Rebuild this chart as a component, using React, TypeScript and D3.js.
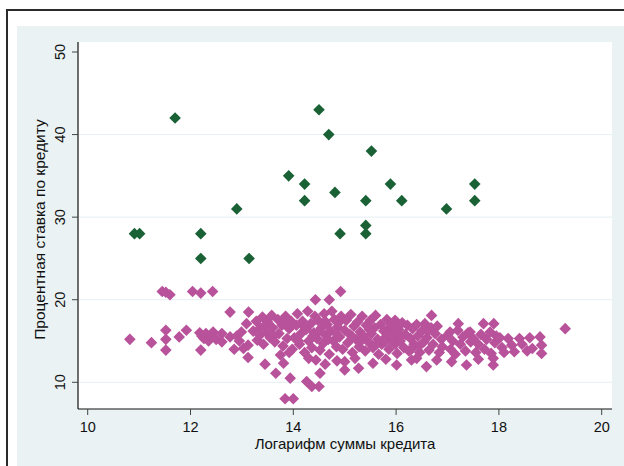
import React, { useEffect, useRef } from 'react';
import * as d3 from 'd3';

// log of credit amount / interest rate, group with high rates
const highRate: [number, number][] = [
  [11.7, 42], [14.5, 43], [14.69, 40], [15.52, 38], [13.91, 35], [14.22, 34],
  [14.22, 32], [14.81, 33], [15.89, 34], [16.11, 32], [15.41, 32], [16.98, 31],
  [17.53, 34], [17.53, 32], [12.9, 31], [10.91, 28], [11.01, 28], [12.2, 28],
  [12.2, 25], [13.14, 25], [14.91, 28], [15.41, 29], [15.41, 28],
];

// everyone else
const lowRate: [number, number][] = [
  [10.82, 15.2], [11.24, 14.8], [11.45, 21], [11.52, 20.9], [11.6, 20.6], [11.52, 16.3],
  [11.52, 15.2], [11.52, 13.9], [11.78, 15.5], [11.92, 16.3], [12.04, 21], [12.2, 20.8],
  [12.43, 21],
  [12.18, 16.0], [12.22, 15.6], [12.26, 15.3], [12.3, 15.9], [12.35, 15.0], [12.4, 15.6],
  [12.44, 16.1], [12.2, 13.9], [12.5, 15.2], [12.61, 15.9], [12.61, 14.9], [12.77, 18.5],
  [12.77, 15.5], [12.9, 15.6], [12.99, 16.1], [12.85, 14.0], [12.95, 15.0],
  [13.03, 14.1], [13.09, 17.1], [13.12, 14.5], [13.12, 13.0], [13.13, 18.5], [13.45, 12.2],
  [13.66, 11.1], [13.81, 12.3], [13.84, 8], [14.0, 8], [13.94, 10.5],
  [13.22, 16.2], [13.28, 17.4], [13.3, 15.1], [13.36, 16.6], [13.4, 17.9], [13.42, 14.6],
  [13.48, 16.0], [13.5, 17.3], [13.55, 15.4], [13.58, 18.1], [13.6, 16.6], [13.64, 14.9],
  [13.7, 17.6], [13.72, 15.9], [13.78, 16.9], [13.8, 14.4], [13.85, 18.0], [13.88, 15.3],
  [13.92, 16.5], [13.96, 17.4], [13.98, 14.0], [13.75, 13.3], [13.92, 13.6],
  [13.45, 16.9], [13.62, 15.6], [13.82, 17.2], [13.35, 15.7],
  [14.02, 15.4], [14.06, 16.9], [14.08, 18.3], [14.12, 14.6], [14.15, 15.9], [14.18, 17.4],
  [14.22, 13.6], [14.25, 16.4], [14.28, 18.6], [14.3, 15.0], [14.34, 17.1], [14.36, 14.2],
  [14.4, 16.0], [14.42, 18.0], [14.46, 15.3], [14.48, 17.5], [14.52, 13.9], [14.55, 16.6],
  [14.58, 14.7], [14.6, 18.3], [14.63, 15.7], [14.66, 17.0], [14.7, 13.4], [14.72, 16.2],
  [14.75, 18.6], [14.78, 15.0], [14.8, 17.6], [14.84, 14.3], [14.86, 16.7], [14.9, 15.5],
  [14.93, 18.0], [14.96, 14.0],
  [14.1, 15.0], [14.2, 16.8], [14.38, 15.6], [14.5, 16.2], [14.62, 17.4], [14.68, 15.2],
  [14.82, 16.0], [14.88, 17.2],
  [14.26, 10.1], [14.36, 9.5], [14.5, 9.5], [14.44, 12.7], [14.52, 11.1], [14.62, 12.2],
  [14.3, 12.9], [14.85, 12.6], [14.43, 20], [14.7, 20], [14.92, 21],
  [15.0, 16.3], [15.03, 17.5], [15.06, 14.8], [15.1, 15.8], [15.12, 18.2], [15.15, 13.6],
  [15.18, 16.8], [15.22, 15.2], [15.25, 17.3], [15.28, 14.3], [15.3, 16.1], [15.34, 18.0],
  [15.36, 15.6], [15.4, 13.8], [15.42, 16.9], [15.46, 14.9], [15.5, 17.5], [15.52, 15.9],
  [15.55, 14.2], [15.58, 16.6], [15.6, 18.1], [15.64, 15.2], [15.66, 13.4], [15.7, 17.0],
  [15.72, 14.6], [15.76, 16.2], [15.8, 15.5], [15.82, 17.6], [15.86, 14.0], [15.88, 16.7],
  [15.92, 15.0], [15.95, 17.2],
  [15.15, 15.5], [15.32, 15.0], [15.48, 16.4], [15.62, 14.6], [15.78, 14.9], [15.9, 16.2],
  [15.98, 17.5], [15.98, 16.8], [15.98, 16.0], [15.98, 15.3], [15.98, 14.6],
  [15.0, 11.5], [15.0, 12.5], [15.27, 11.7], [15.2, 12.9], [15.55, 12.3], [15.8, 12.8],
  [16.02, 13.5], [16.05, 16.4], [16.08, 15.0], [16.12, 17.2], [16.15, 14.2], [16.18, 15.8],
  [16.22, 16.9], [16.25, 13.8], [16.28, 15.3], [16.32, 16.5], [16.35, 14.6], [16.4, 17.0],
  [16.42, 15.6], [16.46, 13.6], [16.5, 16.2], [16.54, 14.9], [16.56, 17.1], [16.6, 15.4],
  [16.64, 13.9], [16.68, 16.6], [16.69, 18.1], [16.72, 14.6], [16.76, 15.9], [16.8, 16.8],
  [16.84, 13.6], [16.88, 15.2], [16.9, 14.3],
  [16.1, 15.6], [16.3, 14.0], [16.45, 14.4], [16.62, 16.2],
  [16.01, 12.1], [16.3, 12.7], [16.59, 11.9], [16.79, 12.7], [16.4, 12.9],
  [17.0, 15.7], [17.05, 16.1], [17.06, 14.0], [17.1, 15.0], [17.15, 13.4], [17.2, 16.3],
  [17.21, 17.1], [17.25, 14.6], [17.3, 15.5], [17.35, 13.8], [17.4, 16.0], [17.44, 16.1],
  [17.45, 14.9], [17.5, 15.3], [17.55, 13.6], [17.6, 14.6], [17.65, 15.8], [17.7, 17.1],
  [17.72, 14.0], [17.76, 15.2], [17.83, 16.1], [17.85, 13.5], [17.9, 17.1], [17.92, 14.8],
  [17.95, 15.6],
  [17.08, 12.5], [17.37, 12.1], [17.89, 12.1], [17.89, 12.9], [17.6, 12.8],
  [18.02, 15.4], [18.06, 14.2], [18.1, 13.6], [18.18, 15.3], [18.25, 14.5], [18.3, 13.7],
  [18.4, 15.3], [18.45, 14.6], [18.55, 13.8], [18.6, 15.4], [18.65, 14.1], [18.8, 15.5],
  [18.83, 14.5], [18.83, 13.5], [19.29, 16.5],
];

const xTicks = [10, 12, 14, 16, 18, 20];
const yTicks = [10, 20, 30, 40, 50];

const xTitle = 'Логарифм суммы кредита';
const yTitle = 'Процентная ставка по кредиту';

const App = () => {
  const svgRef = useRef<SVGSVGElement>(null);

  useEffect(() => {
    const svg = d3.select(svgRef.current);
    svg.selectAll('*').remove();

    const width = 624;
    const height = 466;
    const plot = { left: 78, right: 612, top: 42, bottom: 409 };
    const font = '"Liberation Sans", Arial, sans-serif';

    // frame + graph region
    svg.append('rect').attr('width', width).attr('height', height).attr('fill', '#fff');
    svg.append('rect')
      .attr('x', 17).attr('y', 26)
      .attr('width', width - 17).attr('height', height - 26)
      .attr('fill', '#eaf2f3');
    svg.append('path')
      .attr('d', `M7,${height} V10 H${width}`)
      .attr('fill', 'none')
      .attr('stroke', '#2b2b2b')
      .attr('stroke-width', 2);

    svg.append('rect')
      .attr('x', plot.left).attr('y', plot.top)
      .attr('width', plot.right - plot.left).attr('height', plot.bottom - plot.top)
      .attr('fill', '#fff');

    const x = d3.scaleLinear().domain([10, 20]).range([87.7, 601.7]);
    const y = d3.scaleLinear().domain([10, 50]).range([382.3, 52]);

    // gridlines
    svg.append('g')
      .selectAll('line')
      .data(yTicks.filter(t => t < 50))
      .enter().append('line')
      .attr('x1', plot.left).attr('x2', plot.right)
      .attr('y1', d => y(d)).attr('y2', d => y(d))
      .attr('stroke', '#e6eff3')
      .attr('stroke-width', 1);

    const diamond = 'M0,-5.8L5.8,0L0,5.8L-5.8,0Z';

    svg.append('g')
      .selectAll('path')
      .data(lowRate)
      .enter().append('path')
      .attr('d', diamond)
      .attr('transform', d => `translate(${x(d[0])},${y(d[1])})`)
      .attr('fill', '#b8529b');

    svg.append('g')
      .selectAll('path')
      .data(highRate)
      .enter().append('path')
      .attr('d', diamond)
      .attr('transform', d => `translate(${x(d[0])},${y(d[1])})`)
      .attr('fill', '#1a6236');

    // axes
    const axes = svg.append('g').attr('stroke', '#111').attr('stroke-width', 1.2);
    axes.append('line')
      .attr('x1', plot.left).attr('x2', plot.left)
      .attr('y1', plot.top).attr('y2', plot.bottom);
    axes.append('line')
      .attr('x1', plot.left).attr('x2', plot.right)
      .attr('y1', plot.bottom).attr('y2', plot.bottom);

    const xt = svg.append('g').selectAll('g').data(xTicks).enter().append('g')
      .attr('transform', d => `translate(${x(d)},${plot.bottom})`);
    xt.append('line').attr('y2', 6).attr('stroke', '#444');
    xt.append('text')
      .attr('y', 23)
      .attr('text-anchor', 'middle')
      .style('font-family', font).style('font-size', '14.5px')
      .attr('fill', '#111')
      .text(d => d);

    const yt = svg.append('g').selectAll('g').data(yTicks).enter().append('g')
      .attr('transform', d => `translate(${plot.left},${y(d)})`);
    yt.append('line').attr('x2', -6).attr('stroke', '#444');
    yt.append('text')
      .attr('transform', 'translate(-13,0) rotate(-90)')
      .attr('text-anchor', 'middle')
      .style('font-family', font).style('font-size', '14.5px')
      .attr('fill', '#111')
      .text(d => d);

    svg.append('text')
      .attr('x', (plot.left + plot.right) / 2)
      .attr('y', 449)
      .attr('text-anchor', 'middle')
      .style('font-family', font).style('font-size', '15px')
      .attr('fill', '#111')
      .text(xTitle);

    svg.append('text')
      .attr('transform', `translate(45,${(plot.top + plot.bottom) / 2 + 4}) rotate(-90)`)
      .attr('text-anchor', 'middle')
      .style('font-family', font).style('font-size', '15.5px')
      .attr('fill', '#111')
      .text(yTitle);
  }, []);

  return (
    <svg
      ref={svgRef}
      width={624}
      height={466}
      style={{ position: 'absolute', left: 0, top: 0, display: 'block' }}
    />
  );
};

export default App;
